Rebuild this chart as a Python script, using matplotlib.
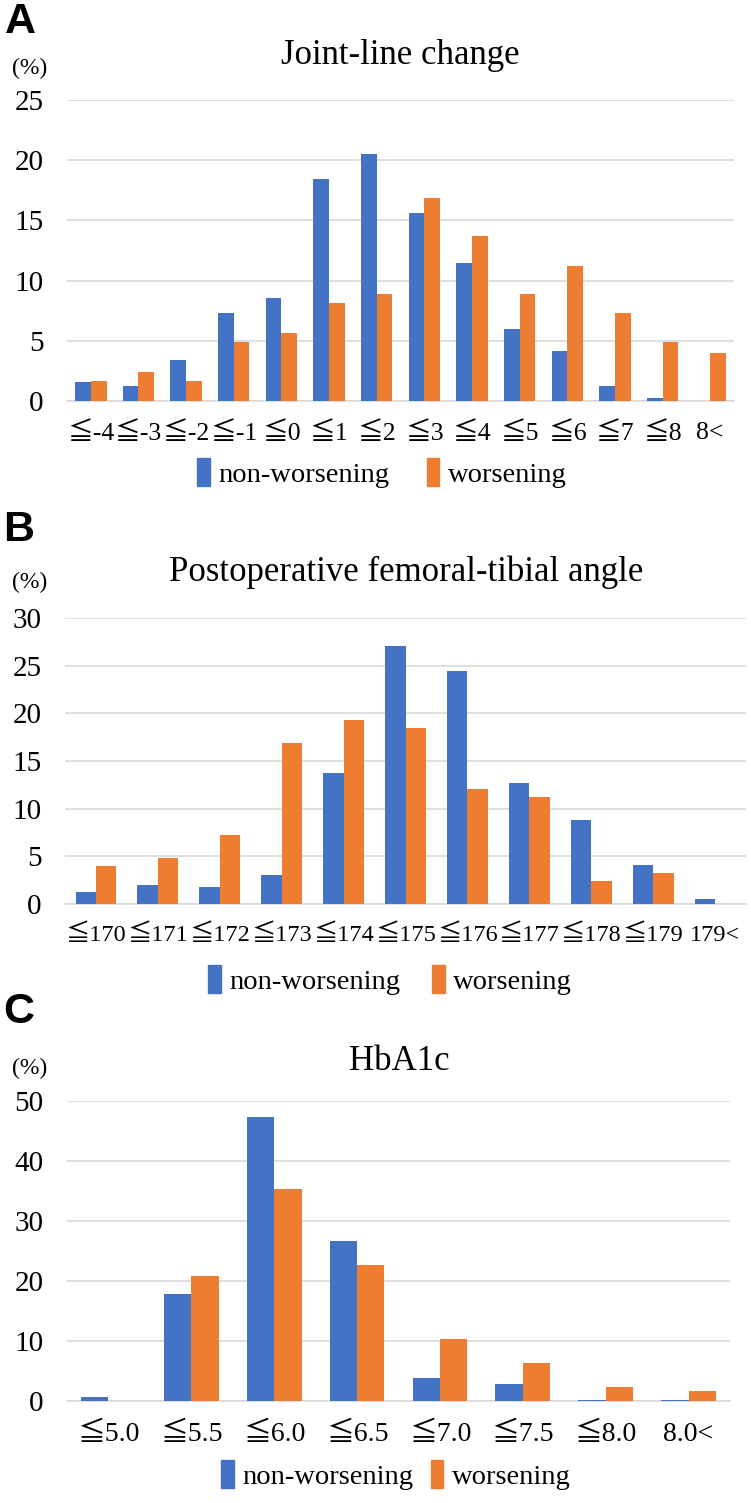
import numpy as np
import matplotlib
matplotlib.use("Agg")
import matplotlib.pyplot as plt
from matplotlib.patches import Patch

# colours used in the original (Excel-style)
BLUE = "#4472C4"
ORANGE = "#ED7D31"
GRID = "#D9D9D9"

plt.rcParams['font.family'] = ['Liberation Serif', 'DejaVu Serif', 'Noto Sans CJK JP', 'DejaVu Sans']

# Panel A: joint-line change
jl_labels = ["≦-4", "≦-3", "≦-2", "≦-1", "≦0", "≦1", "≦2", "≦3", "≦4", "≦5", "≦6", "≦7", "≦8", "8<"]
jl_non = [1.55, 1.27, 3.4, 7.28, 8.58, 18.44, 20.5, 15.59, 11.43, 6.0, 4.18, 1.27, 0.28, 0.0]
jl_wor = [1.66, 2.44, 1.66, 4.87, 5.68, 8.11, 8.89, 16.89, 13.7, 8.89, 11.24, 7.28, 4.87, 4.01]

# Panel B: postoperative femoral-tibial angle
fta_labels = ["≦170", "≦171", "≦172", "≦173", "≦174", "≦175", "≦176", "≦177", "≦178", "≦179", "179<"]
fta_non = [1.22, 2.02, 1.78, 3.07, 13.78, 27.07, 24.42, 12.73, 8.79, 4.12, 0.49]
fta_wor = [3.98, 4.85, 7.26, 16.88, 19.29, 18.49, 12.1, 11.27, 2.44, 3.24, 0.0]

# Panel C: HbA1c
hb_labels = ["≦5.0", "≦5.5", "≦6.0", "≦6.5", "≦7.0", "≦7.5", "≦8.0", "8.0<"]
hb_non = [0.72, 17.9, 47.4, 26.6, 3.9, 2.9, 0.2, 0.2]
hb_wor = [0.0, 20.9, 35.4, 22.6, 10.4, 6.4, 2.4, 1.6]

W, H = 751, 1503
fig = plt.figure(figsize=(W / 100, H / 100), dpi=100)


def rect(x0, y_top, x1, y_bot):
    # pixel box -> figure fraction
    return [x0 / W, 1 - y_bot / H, (x1 - x0) / W, (y_bot - y_top) / H]


def panel(box, labels, non, wor, ymax, step, title, title_xy, pct_xy, letter, letter_xy,
          leg_xy, colsp, xt_size=18.5):
    ax = fig.add_axes(rect(*box))
    x = np.arange(len(labels))
    w = 0.33
    ax.bar(x - w / 2, non, width=w, color=BLUE, zorder=3)
    ax.bar(x + w / 2, wor, width=w, color=ORANGE, zorder=3)
    ax.set_xlim(-0.5, len(labels) - 0.5)
    ax.set_ylim(0, ymax)
    ax.set_yticks(np.arange(0, ymax + 1, step))
    ax.set_xticks(x)
    ax.set_xticklabels(labels)
    ax.grid(axis="y", color=GRID, linewidth=1.2, zorder=0)
    for s in ["top", "right", "left"]:
        ax.spines[s].set_visible(False)
    ax.spines["bottom"].set_color(GRID)
    ax.spines["bottom"].set_linewidth(1.2)
    ax.tick_params(axis="both", length=0)
    ax.tick_params(axis="y", labelsize=21, pad=17)
    ax.tick_params(axis="x", labelsize=xt_size, pad=15)

    fig.text(title_xy[0] / W, 1 - title_xy[1] / H, title, fontsize=25,
             ha="center", va="center")
    fig.text(pct_xy[0] / W, 1 - pct_xy[1] / H, "(%)", fontsize=17,
             ha="center", va="center")
    fig.text(letter_xy[0] / W, 1 - letter_xy[1] / H, letter, fontsize=31,
             fontweight="bold", family="Liberation Sans", ha="center", va="center")
    handles = [Patch(color=BLUE, label="non-worsening"),
               Patch(color=ORANGE, label="worsening")]
    fig.legend(handles=handles, loc="center", ncol=2, frameon=False,
               bbox_to_anchor=(leg_xy[0] / W, 1 - leg_xy[1] / H),
               fontsize=20.5, handlelength=0.45, handleheight=1.1,
               handletextpad=0.3, columnspacing=colsp)
    return ax


panel((67, 100, 734, 401), jl_labels, jl_non, jl_wor, 25, 5,
      "Joint-line change", (400, 55), (30, 68), "A", (20, 22), (382, 473), 1.3)
panel((65, 618, 746, 904), fta_labels, fta_non, fta_wor, 30, 5,
      "Postoperative femoral-tibial angle", (406, 572), (30, 582), "B", (19, 530), (390, 980), 1.1,
      xt_size=17.5)
panel((67, 1101, 730, 1401), hb_labels, hb_non, hb_wor, 50, 10,
      "HbA1c", (399, 1062), (30, 1068), "C", (19, 1012), (396, 1475), 0.6, xt_size=20)

fig.savefig("out.png", dpi=100, facecolor="white")
